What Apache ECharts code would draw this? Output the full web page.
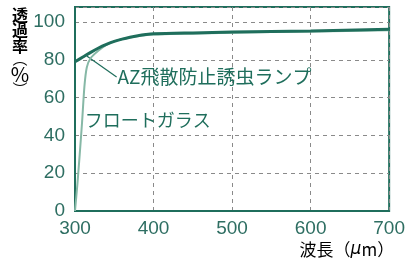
<!DOCTYPE html>
<html><head><meta charset="utf-8">
<script src="https://cdn.jsdelivr.net/npm/echarts@6/dist/echarts.min.js"></script>
<style>html,body{margin:0;padding:0;background:#fff}#c{width:408px;height:258px}</style>
</head><body><div id="c"></div>
<script>
const xTicks = [300, 400, 500, 600, 700];
const yTicks = [0, 20, 40, 60, 80, 100];
const azLamp = [[300,79],[310,81.5],[320,84],[330,86.3],[340,88.2],[350,89.8],[360,91],[370,92],[380,92.8],[390,93.4],[400,93.8],[450,94.3],[500,94.7],[600,95.3],[700,96.2]];
const floatGlass = [[300,0],[303,14],[306,30],[309,47],[312,66],[315,76],[320,81],[330,85],[340,88],[350,89.8],[370,91.8],[400,93.4],[500,94.4],[600,95],[700,95.7]];
const labelAZ = 'AZ飛散防止誘虫ランプ';
const labelFG = 'フロートガラス';
const yNameChars = ['透','過','率'];
const yNameUnit = ['︵','%','︶'];
const xNameA = '波長（';
const xNameMu = 'μ';
const xNameB = 'm）';

const TEAL = '#1f6e5c';
const TXT = '#2e6e62';
const numFont = '"Liberation Sans",sans-serif';
const cjkFont = '"Noto Sans CJK JP","Noto Sans",sans-serif';

const chart = echarts.init(document.getElementById('c'));
chart.setOption({
  animation: false,
  grid: {left: 75, right: 14, top: 7, bottom: 47, show: true, borderColor: TEAL, borderWidth: 2},
  xAxis: {
    type: 'value', min: xTicks[0], max: xTicks[xTicks.length-1], interval: 100,
    axisLine: {show: true, lineStyle: {color: TEAL, width: 2}},
    axisTick: {show: false},
    axisLabel: {color: TXT, fontFamily: numFont, fontSize: 19, margin: 8},
    splitLine: {show: true, lineStyle: {color: '#8a8a8a', type: [4, 4], width: 1}}
  },
  yAxis: {
    type: 'value', min: 0, max: 108, interval: 20,
    axisLine: {show: true, lineStyle: {color: TEAL, width: 2}},
    axisTick: {show: false},
    axisLabel: {color: TXT, fontFamily: numFont, fontSize: 19, margin: 10,
      formatter: v => (yTicks.indexOf(v) >= 0 ? String(v) : '')},
    splitLine: {show: true, lineStyle: {color: '#8a8a8a', type: [4, 4], width: 1}}
  },
  series: [
    {type: 'line', data: floatGlass, smooth: 0.25, symbol: 'none', lineStyle: {color: '#86b8a6', width: 2}, z: 2},
    {type: 'line', data: azLamp, smooth: 0.3, symbol: 'none', lineStyle: {color: TEAL, width: 3}, z: 3}
  ]
});

function px(p){ return chart.convertToPixel({gridIndex: 0}, p); }
const a1 = px([315, 82]), a2 = px([353, 71]);
const tAZ = px([353, 71]);
const tFG = px([315, 48]);
const xAx = px([700, 0]);
const yNameText = yNameChars.map(c => '{c|' + c + '}').join('\n') + '\n{p|' + yNameUnit[0] + '}\n{q|' + yNameUnit[1] + '}\n{p|' + yNameUnit[2] + '}';
chart.setOption({
  graphic: [
    {type: 'line', shape: {x1: a1[0], y1: a1[1], x2: a2[0], y2: a2[1]}, style: {stroke: TEAL, lineWidth: 1.2}},
    {type: 'text', x: tAZ[0] + 1, y: tAZ[1], style: {text: labelAZ, fill: TEAL, fontSize: 19, fontFamily: cjkFont, verticalAlign: 'middle'}},
    {type: 'text', x: tFG[0] - 2, y: tFG[1], style: {text: labelFG, fill: TEAL, fontSize: 18, fontFamily: cjkFont, verticalAlign: 'middle'}},
    {type: 'text', x: 20, y: 7, style: {
      text: yNameText, align: 'center',
      rich: {
        c: {color: TXT, fontSize: 16, fontWeight: 'bold', fontFamily: cjkFont, lineHeight: 15.5, align: 'center'},
        p: {color: TXT, fontSize: 15, fontFamily: cjkFont, lineHeight: 10, align: 'center'},
        q: {color: TXT, fontSize: 20, fontFamily: cjkFont, lineHeight: 21, align: 'center'}
      }
    }},
    {type: 'text', x: xAx[0] + 5, y: 250, style: {
      text: '{a|' + xNameA + '}{m|' + xNameMu + '}{a|' + xNameB + '}',
      align: 'right', verticalAlign: 'middle',
      rich: {a: {color: TXT, fontSize: 17, fontFamily: cjkFont}, m: {color: TXT, fontSize: 17, fontStyle: 'italic', fontFamily: '"DejaVu Sans",sans-serif'}}
    }}
  ]
});
</script></body></html>
